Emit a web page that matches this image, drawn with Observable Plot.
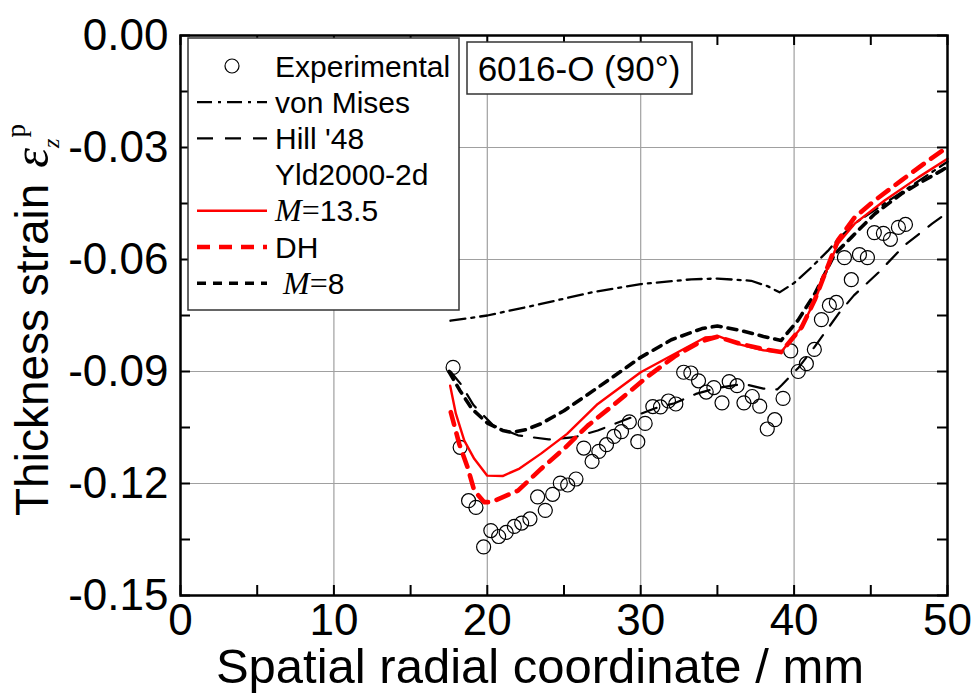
<!DOCTYPE html>
<html>
<head>
<meta charset="utf-8">
<script src="https://cdn.jsdelivr.net/npm/d3@7"></script>
<script src="https://cdn.jsdelivr.net/npm/@observablehq/plot@0.6"></script>
<style>
  body { margin: 0; background: #fff; }
  #chart svg { display: block; }
</style>
</head>
<body>
<div id="chart"></div>
<script>
// Thickness strain along the radial coordinate, 6016-O sheet, 90° direction.
const experimental = [
  [17.77,-0.0889],[18.23,-0.1103],[18.78,-0.1246],[19.26,-0.1264],[19.76,-0.1370],
  [20.23,-0.1326],[20.74,-0.1342],[21.23,-0.1331],[21.76,-0.1315],[22.24,-0.1306],
  [22.78,-0.1295],[23.28,-0.1236],[23.78,-0.1272],[24.26,-0.1229],[24.76,-0.1199],
  [25.24,-0.1204],[25.78,-0.1188],[26.29,-0.1105],[26.83,-0.1141],[27.27,-0.1114],
  [27.77,-0.1096],[28.26,-0.1074],[28.75,-0.1061],[29.26,-0.1035],[29.81,-0.1088],
  [30.29,-0.1039],[30.79,-0.0994],[31.29,-0.0995],[31.81,-0.0979],[32.29,-0.0987],
  [32.80,-0.0902],[33.27,-0.0904],[33.77,-0.0925],[34.27,-0.0955],[34.77,-0.0943],
  [35.30,-0.0984],[35.77,-0.0927],[36.28,-0.0938],[36.73,-0.0984],[37.27,-0.0967],
  [37.76,-0.0993],[38.25,-0.1054],[38.74,-0.1029],[39.28,-0.0972],[39.78,-0.0845],
  [40.27,-0.0900],[40.80,-0.0879],[41.32,-0.0841],[41.78,-0.0761],[42.30,-0.0723],
  [42.75,-0.0715],[43.28,-0.0595],[43.73,-0.0654],[44.26,-0.0587],[44.78,-0.0595],
  [45.23,-0.0528],[45.82,-0.0530],[46.28,-0.0546],[46.80,-0.0514],[47.26,-0.0506]
];
const vonMises = [
  [17.6,-0.0764],[20.0,-0.0750],[23.5,-0.0719],[26.8,-0.0688],[30.0,-0.0666],
  [33.3,-0.0653],[35.0,-0.0651],[37.2,-0.0657],[38.3,-0.0672],[39.05,-0.0688],
  [40.0,-0.0663],[41.1,-0.0622],[42.2,-0.0577],[43.0,-0.0540],[44.0,-0.0502],
  [46.0,-0.0447],[48.0,-0.0393],[50.0,-0.0338]
];
const hill48 = [
  [17.6,-0.0900],[18.3,-0.0935],[19.1,-0.0990],[20.4,-0.1045],[22.0,-0.1071],
  [24.0,-0.1082],[25.7,-0.1076],[27.2,-0.1058],[29.2,-0.1026],[30.9,-0.0999],
  [32.2,-0.0985],[33.6,-0.0960],[35.0,-0.0944],[36.7,-0.0933],[38.0,-0.0946],
  [38.9,-0.0948],[39.2,-0.0936],[40.3,-0.0889],[41.3,-0.0836],[42.9,-0.0745],
  [43.9,-0.0696],[45.5,-0.0635],[47.2,-0.0562],[49.0,-0.0504],[50.0,-0.0474]
];
const yldM135 = [
  [17.58,-0.0938],[17.95,-0.1013],[18.5,-0.1085],[19.15,-0.1134],[20.0,-0.1179],
  [21.0,-0.1180],[22.1,-0.1160],[23.5,-0.1120],[25.2,-0.1067],[27.2,-0.0987],
  [30.0,-0.0902],[32.2,-0.0853],[34.2,-0.0809],[35.1,-0.0806],[36.5,-0.0828],
  [38.0,-0.0843],[39.15,-0.0848],[40.5,-0.0781],[41.35,-0.0710],[42.2,-0.0621],
  [42.85,-0.0558],[43.95,-0.0504],[45.9,-0.0442],[48.1,-0.0380],[50.0,-0.0330]
];
const yldDH = [
  [17.62,-0.1009],[18.17,-0.1094],[18.71,-0.1156],[19.15,-0.1219],[19.8,-0.1250],
  [20.25,-0.1250],[22.0,-0.1219],[23.5,-0.1161],[25.0,-0.1107],[26.55,-0.1045],
  [28.3,-0.0987],[30.5,-0.0912],[32.2,-0.0860],[33.9,-0.0820],[35.0,-0.0807],
  [36.5,-0.0826],[38.0,-0.0840],[39.15,-0.0848],[40.5,-0.0781],[41.35,-0.0708],
  [42.2,-0.0618],[42.85,-0.0549],[43.95,-0.0487],[45.25,-0.0442],[47.0,-0.0388],
  [48.75,-0.0335],[50.0,-0.0299]
];
const yldM8 = [
  [17.5,-0.0900],[18.2,-0.0950],[19.0,-0.1000],[20.0,-0.1038],[21.0,-0.1058],
  [21.6,-0.1063],[22.5,-0.1056],[23.5,-0.1040],[25.0,-0.1005],[26.5,-0.0963],
  [28.0,-0.0920],[30.0,-0.0862],[32.0,-0.0815],[34.0,-0.0785],[35.0,-0.0778],
  [36.5,-0.0790],[38.0,-0.0806],[39.15,-0.0817],[40.25,-0.0763],[41.35,-0.0692],
  [42.65,-0.0585],[43.75,-0.0540],[45.25,-0.0478],[47.0,-0.0424],[48.1,-0.0397],
  [49.6,-0.0362],[50.0,-0.0352]
];

const xTicks = [0, 10, 20, 30, 40, 50];
const yTicks = [0, -0.03, -0.06, -0.09, -0.12, -0.15];
const xMinor = [0, 5, 10, 15, 20, 25, 30, 35, 40, 45, 50];
const yMinor = [0, -0.015, -0.03, -0.045, -0.06, -0.075, -0.09, -0.105, -0.12, -0.135, -0.15];
const xGrid = [10, 20, 30, 40];
const yGrid = [-0.03, -0.06, -0.09, -0.12];

const legendLabels = ["Experimental", "von Mises", "Hill '48", "Yld2000-2d", "M=13.5", "DH", "M=8"];
const panelTitle = "6016-O (90°)";
const xTitle = "Spatial radial coordinate / mm";
const yTitle = "Thickness strain";

// Line styles for each model curve
const styles = {
  vonMises: {stroke: "black", strokeWidth: 2.3, strokeDasharray: "15,6,3,6"},
  hill48:   {stroke: "black", strokeWidth: 2.2, strokeDasharray: "16,12"},
  m135:     {stroke: "#ff0000", strokeWidth: 2.4},
  dh:       {stroke: "#ff0000", strokeWidth: 4.6, strokeDasharray: "13,9"},
  m8:       {stroke: "black", strokeWidth: 3.6, strokeDasharray: "9,7"}
};

const W = 973, H = 695;
const M = {top: 35, right: 26, bottom: 100, left: 180};
const pw = W - M.left - M.right, ph = H - M.top - M.bottom;
const tk = 10;
const sans = "'Liberation Sans', Arial, Helvetica, sans-serif";
const serif = "'Liberation Serif', 'Times New Roman', serif";
const px = d => d[0], py = d => d[1];

const chart = Plot.plot({
  width: W, height: H,
  marginTop: M.top, marginRight: M.right, marginBottom: M.bottom, marginLeft: M.left,
  style: {fontFamily: sans, fontSize: "44px", background: "white", color: "black"},
  x: {domain: [0, 50], ticks: xTicks, tickSize: 0, tickPadding: 8, tickFormat: d => String(d), label: null},
  y: {domain: [-0.15, 0], ticks: yTicks, tickSize: 0, tickPadding: 12, tickFormat: d => d.toFixed(2), label: null},
  marks: [
    Plot.ruleX(xGrid, {stroke: "#a0a0a0", strokeWidth: 1.2}),
    Plot.ruleY(yGrid, {stroke: "#a0a0a0", strokeWidth: 1.2}),
    Plot.tickX(xMinor, {x: d => d, insetTop: ph - tk, stroke: "black", strokeWidth: 2}),
    Plot.tickX(xMinor, {x: d => d, insetBottom: ph - tk, stroke: "black", strokeWidth: 2}),
    Plot.tickY(yMinor, {y: d => d, insetRight: pw - tk, stroke: "black", strokeWidth: 2}),
    Plot.tickY(yMinor, {y: d => d, insetLeft: pw - tk, stroke: "black", strokeWidth: 2}),
    Plot.dot(experimental, {x: px, y: py, r: 7, stroke: "black", strokeWidth: 1.2, fill: "none"}),
    Plot.line(vonMises, {x: px, y: py, ...styles.vonMises}),
    Plot.line(hill48, {x: px, y: py, ...styles.hill48}),
    Plot.line(yldM8, {x: px, y: py, ...styles.m8}),
    Plot.line(yldM135, {x: px, y: py, ...styles.m135}),
    Plot.line(yldDH, {x: px, y: py, ...styles.dh}),
    Plot.frame({stroke: "black", strokeWidth: 2.5})
  ]
});
document.getElementById("chart").appendChild(chart);

const svg = d3.select(chart);

// Axis titles
svg.append("text")
  .attr("x", 540).attr("y", 683)
  .attr("text-anchor", "middle")
  .attr("font-family", sans).attr("font-size", 49)
  .text(xTitle);

const yt = svg.append("text")
  .attr("transform", "translate(48,516) rotate(-90)")
  .attr("text-anchor", "start")
  .attr("font-family", sans).attr("font-size", 46);
yt.append("tspan").text(yTitle);
yt.append("tspan").attr("dx", 16).attr("font-family", serif).attr("font-style", "italic").attr("font-size", 50).text("ε");
yt.append("tspan").attr("font-family", serif).attr("font-style", "italic").attr("font-size", 24).attr("dy", 11).text("z");
yt.append("tspan").attr("font-family", serif).attr("font-size", 27).attr("dx", 1).attr("dy", -34).text("p");

// Legend
const lg = svg.append("g").attr("text-anchor", "start");
lg.append("rect").attr("x", 188).attr("y", 38).attr("width", 271).attr("height", 272)
  .attr("fill", "white").attr("stroke", "#333").attr("stroke-width", 1.5);
const rowStyles = [null, styles.vonMises, styles.hill48, null, styles.m135, styles.dh, styles.m8];
legendLabels.forEach((label, i) => {
  const cy = 66 + i * 36.2;
  if (i === 0) {
    lg.append("circle").attr("cx", 232).attr("cy", cy).attr("r", 7)
      .attr("fill", "none").attr("stroke", "black").attr("stroke-width", 1.2);
  } else if (rowStyles[i]) {
    const s = rowStyles[i];
    lg.append("line").attr("x1", 197).attr("x2", 267).attr("y1", cy).attr("y2", cy)
      .attr("stroke", s.stroke).attr("stroke-width", s.strokeWidth)
      .attr("stroke-dasharray", s.strokeDasharray || null);
  }
  const t = lg.append("text").attr("x", label === "M=8" ? 283 : 275).attr("y", cy + 10.5)
    .attr("text-anchor", "start")
    .attr("font-family", sans).attr("font-size", 30);
  if (label.startsWith("M=")) {
    t.append("tspan").attr("font-family", serif).attr("font-style", "italic").attr("font-size", 32).text("M");
    t.append("tspan").attr("font-family", serif).attr("font-size", 32).text("=");
    t.append("tspan").text(label.slice(2));
  } else {
    t.text(label);
  }
});

// Panel title box
const pt = svg.append("g");
pt.append("rect").attr("x", 467).attr("y", 42).attr("width", 225).attr("height", 52)
  .attr("fill", "white").attr("stroke", "#333").attr("stroke-width", 1.5);
pt.append("text").attr("x", 579).attr("y", 81).attr("text-anchor", "middle")
  .attr("font-family", sans).attr("font-size", 35).text(panelTitle);
</script>
</body>
</html>
